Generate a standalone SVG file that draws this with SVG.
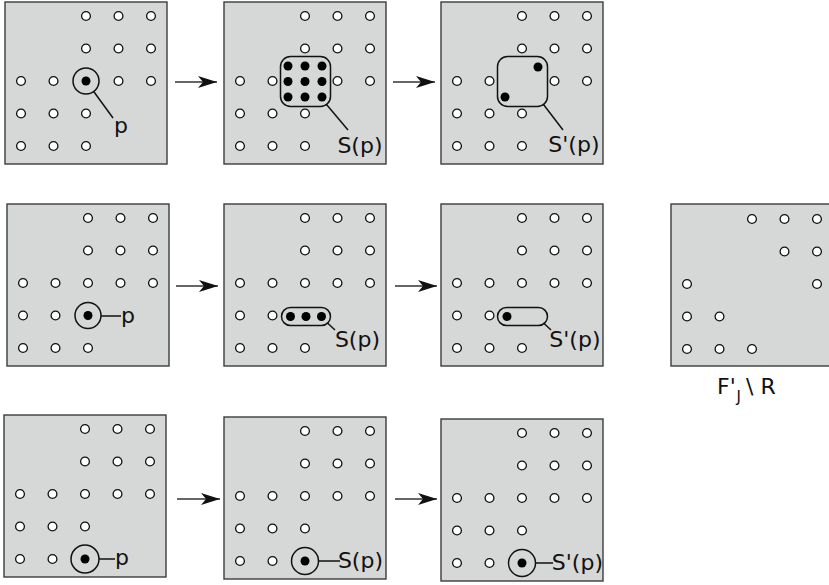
<svg xmlns="http://www.w3.org/2000/svg" xmlns:xlink="http://www.w3.org/1999/xlink" width="829" height="585" viewBox="0 0 829 585">
<style>
.panel{fill:#d6d7d7;stroke:#3c3c3c;stroke-width:1.4}
.o{fill:#ffffff;stroke:#111;stroke-width:1.3}
.f{fill:#000}
.ring{fill:none;stroke:#111;stroke-width:1.5}
.ptr{stroke:#111;stroke-width:1.5;fill:none}
.lbl{font-family:"DejaVu Sans",Verdana,sans-serif;font-size:22px;fill:#111}
.lp{font-family:"DejaVu Sans",Verdana,sans-serif;font-size:22px;fill:#111}
.arr{stroke:#333;stroke-width:1.5;fill:none;marker-end:url(#ah)}
</style>
<defs>
<circle id="o" r="4.4" class="o"/>
<circle id="f" r="4.5" class="f"/>
<marker id="ah" markerWidth="20" markerHeight="14" refX="19" refY="7" orient="auto" markerUnits="userSpaceOnUse">
<path d="M0,1 L19,7 L0,13 L5,7 z" fill="#111"/>
</marker>
</defs>
<rect width="829" height="585" fill="#ffffff"/>

<!-- Row 1 -->
<g id="r1p1" transform="translate(5,2)">
<rect class="panel" x="0" y="0" width="162" height="162"/>
<use href="#o" x="81" y="14"/><use href="#o" x="113.5" y="14"/><use href="#o" x="146" y="14"/>
<use href="#o" x="81" y="46.5"/><use href="#o" x="113.5" y="46.5"/><use href="#o" x="146" y="46.5"/>
<use href="#o" x="16" y="79"/><use href="#o" x="48.5" y="79"/><use href="#o" x="113.5" y="79"/><use href="#o" x="146" y="79"/>
<use href="#o" x="16" y="111.5"/><use href="#o" x="48.5" y="111.5"/><use href="#o" x="81" y="111.5"/>
<use href="#o" x="16" y="144"/><use href="#o" x="48.5" y="144"/><use href="#o" x="81" y="144"/>
<use href="#f" x="81" y="79"/>
<circle class="ring" cx="81" cy="79" r="13"/>
<line class="ptr" x1="88.7" y1="89.5" x2="108" y2="116"/>
<text class="lp" x="109" y="131">p</text>
</g>

<g id="r1p2" transform="translate(224,2)">
<rect class="panel" x="0" y="0" width="162" height="162"/>
<use href="#o" x="81" y="14"/><use href="#o" x="113.5" y="14"/><use href="#o" x="146" y="14"/>
<use href="#o" x="81" y="46.5"/><use href="#o" x="113.5" y="46.5"/><use href="#o" x="146" y="46.5"/>
<use href="#o" x="16" y="79"/><use href="#o" x="48.5" y="79"/><use href="#o" x="113.5" y="79"/><use href="#o" x="146" y="79"/>
<use href="#o" x="16" y="111.5"/><use href="#o" x="48.5" y="111.5"/><use href="#o" x="81" y="111.5"/>
<use href="#o" x="16" y="144"/><use href="#o" x="48.5" y="144"/><use href="#o" x="81" y="144"/>
<rect class="ring" x="56.5" y="54.5" width="50" height="50" rx="10"/>
<use href="#f" x="64" y="64"/><use href="#f" x="81" y="64"/><use href="#f" x="98" y="64"/>
<use href="#f" x="64" y="79.5"/><use href="#f" x="81" y="79.5"/><use href="#f" x="98" y="79.5"/>
<use href="#f" x="64" y="95"/><use href="#f" x="81" y="95"/><use href="#f" x="98" y="95"/>
<line class="ptr" x1="102.5" y1="102.5" x2="124" y2="128"/>
<text class="lbl" x="158.5" y="151" text-anchor="end">S(p)</text>
</g>

<g id="r1p3" transform="translate(441,2)">
<rect class="panel" x="0" y="0" width="162" height="162"/>
<use href="#o" x="81" y="14"/><use href="#o" x="113.5" y="14"/><use href="#o" x="146" y="14"/>
<use href="#o" x="81" y="46.5"/><use href="#o" x="113.5" y="46.5"/><use href="#o" x="146" y="46.5"/>
<use href="#o" x="16" y="79"/><use href="#o" x="48.5" y="79"/><use href="#o" x="113.5" y="79"/><use href="#o" x="146" y="79"/>
<use href="#o" x="16" y="111.5"/><use href="#o" x="48.5" y="111.5"/><use href="#o" x="81" y="111.5"/>
<use href="#o" x="16" y="144"/><use href="#o" x="48.5" y="144"/><use href="#o" x="81" y="144"/>
<rect class="ring" x="56.5" y="54.5" width="50" height="50" rx="10"/>
<use href="#f" x="97" y="65"/><use href="#f" x="64" y="95"/>
<line class="ptr" x1="102.5" y1="102.5" x2="122" y2="128"/>
<text class="lbl" x="158.5" y="150" text-anchor="end">S'(p)</text>
</g>

<!-- Row 2 -->
<g id="r2p1" transform="translate(7,204)">
<rect class="panel" x="0" y="0" width="162" height="162"/>
<use href="#o" x="81" y="14"/><use href="#o" x="113.5" y="14"/><use href="#o" x="146" y="14"/>
<use href="#o" x="81" y="46.5"/><use href="#o" x="113.5" y="46.5"/><use href="#o" x="146" y="46.5"/>
<use href="#o" x="16" y="79"/><use href="#o" x="48.5" y="79"/><use href="#o" x="81" y="79"/><use href="#o" x="113.5" y="79"/><use href="#o" x="146" y="79"/>
<use href="#o" x="16" y="111.5"/><use href="#o" x="48.5" y="111.5"/>
<use href="#o" x="16" y="144"/><use href="#o" x="48.5" y="144"/><use href="#o" x="81" y="144"/>
<use href="#f" x="81" y="111.5"/>
<circle class="ring" cx="81" cy="111.5" r="13"/>
<line class="ptr" x1="94" y1="112" x2="114" y2="112"/>
<text class="lp" x="114" y="119">p</text>
</g>

<g id="r2p2" transform="translate(224,204)">
<rect class="panel" x="0" y="0" width="162" height="162"/>
<use href="#o" x="81" y="14"/><use href="#o" x="113.5" y="14"/><use href="#o" x="146" y="14"/>
<use href="#o" x="81" y="46.5"/><use href="#o" x="113.5" y="46.5"/><use href="#o" x="146" y="46.5"/>
<use href="#o" x="16" y="79"/><use href="#o" x="48.5" y="79"/><use href="#o" x="81" y="79"/><use href="#o" x="113.5" y="79"/><use href="#o" x="146" y="79"/>
<use href="#o" x="16" y="111.5"/><use href="#o" x="48.5" y="111.5"/>
<use href="#o" x="16" y="144"/><use href="#o" x="48.5" y="144"/><use href="#o" x="81" y="144"/>
<rect class="ring" x="57.5" y="103.5" width="49" height="18" rx="9"/>
<use href="#f" x="66.5" y="112.5"/><use href="#f" x="82" y="112.5"/><use href="#f" x="97.5" y="112.5"/>
<line class="ptr" x1="103.5" y1="119" x2="111" y2="126"/>
<text class="lbl" x="156" y="143" text-anchor="end">S(p)</text>
</g>

<g id="r2p3" transform="translate(441,204)">
<rect class="panel" x="0" y="0" width="162" height="162"/>
<use href="#o" x="81" y="14"/><use href="#o" x="113.5" y="14"/><use href="#o" x="146" y="14"/>
<use href="#o" x="81" y="46.5"/><use href="#o" x="113.5" y="46.5"/><use href="#o" x="146" y="46.5"/>
<use href="#o" x="16" y="79"/><use href="#o" x="48.5" y="79"/><use href="#o" x="81" y="79"/><use href="#o" x="113.5" y="79"/><use href="#o" x="146" y="79"/>
<use href="#o" x="16" y="111.5"/><use href="#o" x="48.5" y="111.5"/>
<use href="#o" x="16" y="144"/><use href="#o" x="48.5" y="144"/><use href="#o" x="81" y="144"/>
<rect class="ring" x="56.5" y="103.5" width="50" height="18" rx="9"/>
<use href="#f" x="66" y="112.5"/>
<line class="ptr" x1="102.5" y1="119" x2="110" y2="126"/>
<text class="lbl" x="159.5" y="143" text-anchor="end">S'(p)</text>
</g>

<g id="r2p4" transform="translate(671,204)">
<rect class="panel" x="0" y="0" width="162" height="162"/>
<use href="#o" x="81" y="15"/><use href="#o" x="113.5" y="15"/><use href="#o" x="146" y="15"/>
<use href="#o" x="113.5" y="47.5"/><use href="#o" x="146" y="47.5"/>
<use href="#o" x="16" y="80"/><use href="#o" x="146" y="80"/>
<use href="#o" x="16" y="112.5"/><use href="#o" x="48.5" y="112.5"/>
<use href="#o" x="16" y="145"/><use href="#o" x="48.5" y="145"/><use href="#o" x="81" y="145"/>
</g>
<g id="label-FJR">
<text class="lbl" x="717" y="394">F'<tspan x="736.5" dy="8" style="font-size:15px">J</tspan><tspan x="746" dy="-8">\ R</tspan></text>
</g>

<!-- Row 3 -->
<g id="r3p1" transform="translate(4,415)">
<rect class="panel" x="0" y="0" width="162" height="162"/>
<use href="#o" x="81" y="14"/><use href="#o" x="113.5" y="14"/><use href="#o" x="146" y="14"/>
<use href="#o" x="81" y="46.5"/><use href="#o" x="113.5" y="46.5"/><use href="#o" x="146" y="46.5"/>
<use href="#o" x="16" y="79"/><use href="#o" x="48.5" y="79"/><use href="#o" x="81" y="79"/><use href="#o" x="113.5" y="79"/><use href="#o" x="146" y="79"/>
<use href="#o" x="16" y="111.5"/><use href="#o" x="48.5" y="111.5"/><use href="#o" x="81" y="111.5"/>
<use href="#o" x="16" y="144"/><use href="#o" x="48.5" y="144"/>
<use href="#f" x="81" y="144"/>
<circle class="ring" cx="81" cy="144" r="14"/>
<line class="ptr" x1="95" y1="144" x2="111" y2="144"/>
<text class="lp" x="111" y="150">p</text>
</g>

<g id="r3p2" transform="translate(224,417)">
<rect class="panel" x="0" y="0" width="162" height="162"/>
<use href="#o" x="81" y="14"/><use href="#o" x="113.5" y="14"/><use href="#o" x="146" y="14"/>
<use href="#o" x="81" y="46.5"/><use href="#o" x="113.5" y="46.5"/><use href="#o" x="146" y="46.5"/>
<use href="#o" x="16" y="79"/><use href="#o" x="48.5" y="79"/><use href="#o" x="81" y="79"/><use href="#o" x="113.5" y="79"/><use href="#o" x="146" y="79"/>
<use href="#o" x="16" y="111.5"/><use href="#o" x="48.5" y="111.5"/><use href="#o" x="81" y="111.5"/>
<use href="#o" x="16" y="144"/><use href="#o" x="48.5" y="144"/>
<use href="#f" x="81" y="144"/>
<circle class="ring" cx="81" cy="144" r="13.5"/>
<line class="ptr" x1="94.5" y1="144" x2="116" y2="144"/>
<text class="lbl" x="159" y="151" text-anchor="end">S(p)</text>
</g>

<g id="r3p3" transform="translate(441,419)">
<rect class="panel" x="0" y="0" width="162" height="162"/>
<use href="#o" x="81" y="14"/><use href="#o" x="113.5" y="14"/><use href="#o" x="146" y="14"/>
<use href="#o" x="81" y="46.5"/><use href="#o" x="113.5" y="46.5"/><use href="#o" x="146" y="46.5"/>
<use href="#o" x="16" y="79"/><use href="#o" x="48.5" y="79"/><use href="#o" x="81" y="79"/><use href="#o" x="113.5" y="79"/><use href="#o" x="146" y="79"/>
<use href="#o" x="16" y="111.5"/><use href="#o" x="48.5" y="111.5"/><use href="#o" x="81" y="111.5"/>
<use href="#o" x="16" y="144"/><use href="#o" x="48.5" y="144"/>
<use href="#f" x="81" y="144"/>
<circle class="ring" cx="81" cy="144" r="13.5"/>
<line class="ptr" x1="94.5" y1="144" x2="112" y2="144"/>
<text class="lbl" x="162" y="151" text-anchor="end">S'(p)</text>
</g>

<g id="connectors">
<line class="arr" x1="175" y1="82" x2="217" y2="82"/>
<line class="arr" x1="393" y1="82" x2="435" y2="82"/>
<line class="arr" x1="176" y1="286" x2="218" y2="286"/>
<line class="arr" x1="395" y1="286" x2="437" y2="286"/>
<line class="arr" x1="177" y1="499" x2="220" y2="499"/>
<line class="arr" x1="395" y1="499" x2="437" y2="499"/>
</g>
</svg>
